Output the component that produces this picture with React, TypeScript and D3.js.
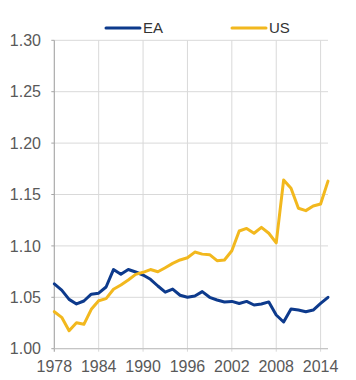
import React from "react";
import * as d3 from "d3";

const years: number[] = [];
for (let y = 1978; y <= 2015; y++) years.push(y);

const eaValues = [
  1.063, 1.057, 1.048, 1.0435, 1.0464, 1.053, 1.054, 1.060, 1.077, 1.0724,
  1.077, 1.0746, 1.0717, 1.0675, 1.061, 1.055, 1.058, 1.052, 1.050, 1.0513,
  1.0555, 1.050, 1.0474, 1.0455, 1.046, 1.044, 1.046, 1.0425, 1.0435, 1.0455,
  1.0328, 1.026, 1.0386, 1.0376, 1.036, 1.0376, 1.044, 1.050,
];

const usValues = [
  1.036, 1.0305, 1.0175, 1.0253, 1.0237, 1.0383, 1.0467, 1.0487, 1.0578, 1.062,
  1.0668, 1.0723, 1.0743, 1.077, 1.0748, 1.0788, 1.083, 1.0863, 1.0885, 1.094,
  1.092, 1.0915, 1.0856, 1.0863, 1.0953, 1.1145, 1.117, 1.1123, 1.118, 1.1123,
  1.103, 1.164, 1.156, 1.1366, 1.1343, 1.1388, 1.1408, 1.163,
];

const yTicks = [1.0, 1.05, 1.1, 1.15, 1.2, 1.25, 1.3];
const xTicks = [1978, 1984, 1990, 1996, 2002, 2008, 2014];

const seriesNames = ["EA", "US"];
const seriesColors = ["#0d3a8c", "#f2b81e"];

export default function App() {
  const left = 54.3;
  const right = 328;
  const top = 40.3;
  const bottom = 348.7;

  const x = d3.scaleLinear().domain([1978, 2015]).range([left, right]);
  const y = d3.scaleLinear().domain([1.0, 1.3]).range([bottom, top]);

  const line = d3
    .line<number>()
    .x((_, i) => x(years[i]))
    .y((d) => y(d))
    .curve(d3.curveLinear);

  const series = [eaValues, usValues];

  return (
    <svg
      width={356}
      height={380}
      style={{ position: "absolute", left: 0, top: 0, background: "#fff" }}
      fontFamily="'Liberation Sans', Arial, sans-serif"
    >
      {/* horizontal gridlines */}
      {yTicks.map((t) => (
        <line
          key={"h" + t}
          x1={left}
          x2={right}
          y1={y(t)}
          y2={y(t)}
          stroke="#d9d9d9"
          strokeWidth={1}
        />
      ))}
      {/* vertical gridlines */}
      {xTicks.map((t) => (
        <line
          key={"v" + t}
          x1={x(t)}
          x2={x(t)}
          y1={top}
          y2={bottom + 3}
          stroke="#d9d9d9"
          strokeWidth={1}
        />
      ))}
      {/* left axis */}
      <line x1={left} x2={left} y1={top} y2={bottom + 3} stroke="#a6a6a6" strokeWidth={1} />
      {yTicks.map((t) => (
        <line
          key={"yt" + t}
          x1={left - 3}
          x2={left}
          y1={y(t)}
          y2={y(t)}
          stroke="#a6a6a6"
          strokeWidth={1}
        />
      ))}
      {/* bottom axis */}
      <line x1={left} x2={right} y1={bottom} y2={bottom} stroke="#bfbfbf" strokeWidth={1} />

      {/* y labels */}
      {yTicks.map((t) => (
        <text
          key={"yl" + t}
          x={41}
          y={y(t)}
          dy="0.35em"
          textAnchor="end"
          fontSize={16}
          fill="#595959"
        >
          {d3.format(".2f")(t)}
        </text>
      ))}
      {/* x labels */}
      {xTicks.map((t) => (
        <text
          key={"xl" + t}
          x={x(t)}
          y={372}
          textAnchor="middle"
          fontSize={16}
          fill="#595959"
        >
          {t}
        </text>
      ))}

      {/* lines */}
      {series.map((s, i) => (
        <path
          key={seriesNames[i]}
          d={line(s) || ""}
          fill="none"
          stroke={seriesColors[i]}
          strokeWidth={3}
          strokeLinejoin="round"
          strokeLinecap="round"
        />
      ))}

      {/* legend */}
      {seriesNames.map((n, i) => {
        const lx = i === 0 ? 106 : 232;
        return (
          <g key={"lg" + n}>
            <line
              x1={lx}
              x2={lx + 34}
              y1={28}
              y2={28}
              stroke={seriesColors[i]}
              strokeWidth={3}
              strokeLinecap="round"
            />
            <text x={lx + 37} y={28} dy="0.35em" fontSize={15} fill="#333">
              {n}
            </text>
          </g>
        );
      })}
    </svg>
  );
}
